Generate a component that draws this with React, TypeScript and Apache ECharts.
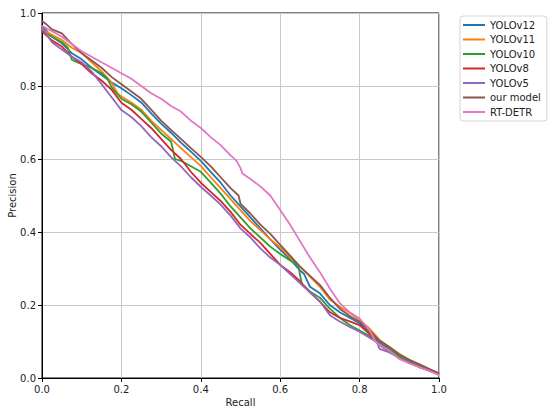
import React, { useEffect, useRef } from "react";
import * as echarts from "echarts";

const seriesNames = ["YOLOv12", "YOLOv11", "YOLOv10", "YOLOv8", "YOLOv5", "our model", "RT-DETR"];
const seriesColors = ["#1f77b4", "#ff7f0e", "#2ca02c", "#d62728", "#9467bd", "#8c564b", "#e377c2"];
const axisTicks = [0, 0.2, 0.4, 0.6, 0.8, 1.0];

const yolov12: number[][] = [
  [0, 0.965], [0.025, 0.935], [0.05, 0.917], [0.075, 0.89], [0.1, 0.873], [0.125, 0.85], [0.15, 0.83],
  [0.175, 0.81], [0.2, 0.794], [0.225, 0.775], [0.25, 0.755], [0.275, 0.725], [0.3, 0.697], [0.325, 0.672],
  [0.35, 0.645], [0.375, 0.62], [0.4, 0.595], [0.425, 0.565], [0.45, 0.535], [0.475, 0.5], [0.5, 0.47],
  [0.525, 0.44], [0.55, 0.41], [0.575, 0.38], [0.6, 0.352], [0.625, 0.325], [0.65, 0.295], [0.66, 0.285],
  [0.675, 0.25], [0.7, 0.232], [0.725, 0.2], [0.75, 0.18], [0.775, 0.165], [0.8, 0.15], [0.825, 0.125],
  [0.85, 0.097], [0.875, 0.08], [0.9, 0.06], [0.925, 0.046], [0.95, 0.034], [0.975, 0.022], [1.0, 0.011],
];

const yolov11: number[][] = [
  [0, 0.955], [0.025, 0.94], [0.05, 0.926], [0.075, 0.905], [0.1, 0.89], [0.125, 0.865], [0.15, 0.84],
  [0.175, 0.81], [0.19, 0.78], [0.2, 0.771], [0.225, 0.755], [0.25, 0.735], [0.275, 0.705], [0.3, 0.68],
  [0.325, 0.655], [0.35, 0.63], [0.375, 0.605], [0.4, 0.581], [0.425, 0.55], [0.45, 0.52], [0.475, 0.49],
  [0.5, 0.46], [0.525, 0.43], [0.55, 0.405], [0.575, 0.38], [0.6, 0.358], [0.625, 0.33], [0.65, 0.305],
  [0.675, 0.278], [0.7, 0.25], [0.725, 0.215], [0.75, 0.195], [0.775, 0.178], [0.8, 0.16], [0.825, 0.135],
  [0.85, 0.105], [0.875, 0.085], [0.9, 0.066], [0.925, 0.05], [0.95, 0.036], [0.975, 0.024], [1.0, 0.012],
];

const yolov10: number[][] = [
  [0, 0.95], [0.025, 0.935], [0.05, 0.92], [0.065, 0.905], [0.075, 0.872], [0.1, 0.86], [0.125, 0.85],
  [0.15, 0.835], [0.165, 0.82], [0.175, 0.797], [0.2, 0.765], [0.225, 0.75], [0.25, 0.73], [0.275, 0.7],
  [0.3, 0.67], [0.325, 0.648], [0.335, 0.6], [0.35, 0.595], [0.375, 0.58], [0.4, 0.565], [0.425, 0.535],
  [0.45, 0.505], [0.475, 0.47], [0.5, 0.44], [0.525, 0.41], [0.55, 0.385], [0.575, 0.36], [0.6, 0.34],
  [0.625, 0.322], [0.645, 0.31], [0.655, 0.255], [0.675, 0.237], [0.7, 0.22], [0.725, 0.19], [0.75, 0.165],
  [0.775, 0.145], [0.8, 0.13], [0.825, 0.115], [0.85, 0.09], [0.875, 0.078], [0.9, 0.06], [0.925, 0.046],
  [0.95, 0.034], [0.975, 0.022], [1.0, 0.011],
];

const yolov8: number[][] = [
  [0, 0.95], [0.025, 0.925], [0.05, 0.908], [0.075, 0.88], [0.1, 0.86], [0.125, 0.835], [0.15, 0.815],
  [0.175, 0.79], [0.2, 0.754], [0.225, 0.735], [0.25, 0.71], [0.275, 0.685], [0.3, 0.655], [0.325, 0.625],
  [0.35, 0.6], [0.375, 0.565], [0.4, 0.535], [0.425, 0.51], [0.45, 0.485], [0.475, 0.455], [0.5, 0.42],
  [0.525, 0.395], [0.55, 0.37], [0.575, 0.34], [0.6, 0.31], [0.625, 0.29], [0.65, 0.265], [0.675, 0.235],
  [0.7, 0.209], [0.725, 0.18], [0.75, 0.165], [0.775, 0.155], [0.8, 0.145], [0.825, 0.12], [0.85, 0.09],
  [0.875, 0.072], [0.9, 0.055], [0.925, 0.042], [0.95, 0.03], [0.975, 0.02], [1.0, 0.01],
];

const yolov5: number[][] = [
  [0, 0.96], [0.025, 0.92], [0.05, 0.9], [0.075, 0.88], [0.1, 0.865], [0.125, 0.84], [0.15, 0.805],
  [0.175, 0.77], [0.2, 0.734], [0.225, 0.715], [0.25, 0.69], [0.275, 0.66], [0.3, 0.635], [0.325, 0.605],
  [0.35, 0.58], [0.375, 0.55], [0.4, 0.524], [0.425, 0.5], [0.45, 0.475], [0.475, 0.445], [0.5, 0.41],
  [0.525, 0.385], [0.55, 0.355], [0.575, 0.33], [0.6, 0.31], [0.625, 0.285], [0.65, 0.26], [0.675, 0.235],
  [0.7, 0.21], [0.725, 0.172], [0.75, 0.155], [0.775, 0.14], [0.8, 0.127], [0.825, 0.11], [0.843, 0.1],
  [0.85, 0.08], [0.875, 0.07], [0.9, 0.055], [0.925, 0.042], [0.95, 0.03], [0.975, 0.02], [1.0, 0.01],
];

const ourModel: number[][] = [
  [0, 0.978], [0.01, 0.97], [0.025, 0.955], [0.05, 0.944], [0.075, 0.915], [0.1, 0.89], [0.125, 0.87],
  [0.15, 0.85], [0.175, 0.825], [0.2, 0.805], [0.225, 0.785], [0.25, 0.765], [0.275, 0.735], [0.3, 0.705],
  [0.325, 0.68], [0.35, 0.655], [0.375, 0.63], [0.4, 0.606], [0.425, 0.58], [0.45, 0.55], [0.475, 0.52],
  [0.495, 0.5], [0.5, 0.478], [0.525, 0.45], [0.55, 0.42], [0.575, 0.395], [0.6, 0.365], [0.625, 0.335],
  [0.65, 0.305], [0.675, 0.28], [0.7, 0.255], [0.725, 0.22], [0.75, 0.19], [0.775, 0.17], [0.8, 0.155],
  [0.825, 0.13], [0.85, 0.102], [0.875, 0.085], [0.9, 0.065], [0.925, 0.05], [0.95, 0.038], [0.975, 0.025],
  [1.0, 0.013],
];

const rtDetr: number[][] = [
  [0, 0.965], [0.025, 0.95], [0.05, 0.935], [0.075, 0.915], [0.1, 0.895], [0.125, 0.88], [0.15, 0.865],
  [0.175, 0.85], [0.2, 0.835], [0.225, 0.82], [0.25, 0.8], [0.275, 0.78], [0.3, 0.765], [0.325, 0.745],
  [0.35, 0.73], [0.375, 0.705], [0.4, 0.685], [0.425, 0.66], [0.45, 0.638], [0.475, 0.61], [0.49, 0.595],
  [0.5, 0.575], [0.505, 0.56], [0.525, 0.545], [0.55, 0.525], [0.575, 0.5], [0.6, 0.46], [0.625, 0.42],
  [0.65, 0.375], [0.675, 0.33], [0.7, 0.29], [0.725, 0.245], [0.75, 0.205], [0.775, 0.18], [0.8, 0.163],
  [0.825, 0.13], [0.84, 0.1], [0.85, 0.09], [0.875, 0.075], [0.9, 0.052], [0.925, 0.04], [0.95, 0.03],
  [0.975, 0.02], [1.0, 0.008],
];

const seriesData = [yolov12, yolov11, yolov10, yolov8, yolov5, ourModel, rtDetr];

const FONT = "DejaVu Sans";

export default function App() {
  const ref = useRef<HTMLDivElement>(null);
  useEffect(() => {
    if (!ref.current) return;
    const chart = echarts.init(ref.current, null, { renderer: "svg" });
    const axisCommon = {
      type: "value" as const,
      min: axisTicks[0],
      max: axisTicks[axisTicks.length - 1],
      interval: 0.2,
      axisLine: { show: true, lineStyle: { color: "#000", width: 1 } },
      axisTick: { show: true, length: 4, lineStyle: { color: "#000", width: 1 } },
      axisLabel: {
        color: "#222",
        fontSize: 10,
        fontFamily: FONT,
        margin: 6,
        formatter: (v: number) => v.toFixed(1),
      },
      splitLine: { show: true, lineStyle: { color: "#c8c8c8", width: 1 } },
      nameLocation: "middle" as const,
      nameMoveOverlap: false,
      nameTextStyle: { color: "#222", fontSize: 10, fontFamily: FONT },
    };
    chart.setOption({
      animation: false,
      backgroundColor: "#fff",
      grid: {
        left: 42,
        right: 111,
        top: 13,
        bottom: 37,
        outerBoundsMode: "none",
        containLabel: false,
        show: true,
        borderColor: "#000",
        borderWidth: 1,
        backgroundColor: "transparent",
      },
      xAxis: { ...axisCommon, name: "Recall", nameGap: 19 },
      yAxis: { ...axisCommon, name: "Precision", nameGap: 25 },
      legend: {
        orient: "vertical",
        left: 460,
        top: 16,
        padding: [3, 6, 3, 3],
        itemWidth: 22,
        itemHeight: 2,
        itemGap: 2.5,
        icon: "rect",
        borderColor: "#d5d5d5",
        borderWidth: 1,
        borderRadius: 3,
        backgroundColor: "#fff",
        textStyle: { color: "#222", fontSize: 10, fontFamily: FONT, lineHeight: 12 },
        data: seriesNames,
      },
      series: seriesNames.map((name, i) => ({
        name,
        type: "line",
        data: seriesData[i],
        showSymbol: false,
        symbol: "none",
        lineStyle: { color: seriesColors[i], width: 1.8 },
        itemStyle: { color: seriesColors[i] },
        z: 2 + i,
      })),
    });
    return () => chart.dispose();
  }, []);
  return (
    <div
      ref={ref}
      style={{ position: "fixed", left: 0, top: 0, width: 550, height: 415, background: "#fff" }}
    />
  );
}
